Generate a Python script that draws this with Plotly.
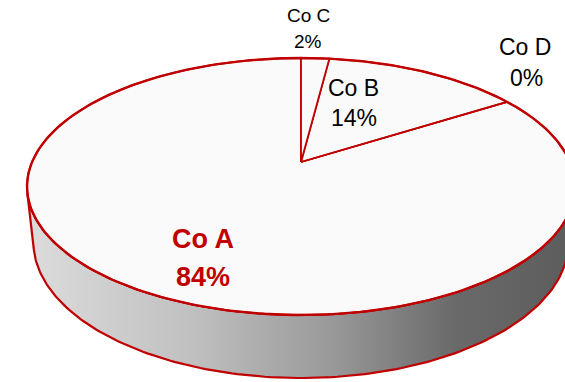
import numpy as np
import plotly.graph_objects as go

# Market share by company (percent)
companies = ["Co A", "Co B", "Co C", "Co D"]
shares = [84, 14, 2, 0]

# Slices are laid out clockwise starting at 12 o'clock in this order
slice_order = ["Co C", "Co B", "Co D", "Co A"]

W, H = 565, 382
RED = "#c00000"
TOP_FILL = "#fafafa"

# Perspective camera for the tilted disc (unit radius)
TILT = np.arcsin(0.4604)
DIST = 4.657
FOCAL = 1252.6
CX, CY = 301.0, 162.0
THICK = 0.2346
cs, sn = np.cos(TILT), np.sin(TILT)


def project(theta_deg, r=1.0, h=0.0):
    th = np.radians(np.asarray(theta_deg, dtype=float))
    x = r * np.sin(th)
    z = r * np.cos(th)
    y = np.full_like(x, h)
    yp = y * cs + z * sn
    zp = -y * sn + z * cs
    depth = DIST + zp
    return CX + FOCAL * x / depth, CY - FOCAL * yp / depth


def arc(a0, a1, r=1.0, h=0.0):
    n = max(2, int(abs(a1 - a0)) + 2)
    return project(np.linspace(a0, a1, n), r, h)


fig = go.Figure()

# Visible rim of the disc, between the two silhouette generators
sil = np.degrees(np.arccos(-1.0 / (DIST * cs)))
tx, ty = arc(sil, 360 - sil, 1.0, 0.0)
bx, by = arc(360 - sil, sil, 1.0, -THICK)
fig.add_trace(go.Scatter(
    x=np.concatenate([tx, bx, tx[:1]]),
    y=np.concatenate([ty, by, ty[:1]]),
    mode="lines", fill="toself",
    fillgradient=dict(type="horizontal",
                      colorscale=[[0, "#dcdcdc"], [0.3, "#c0c0c0"],
                                  [0.55, "#9a9a9a"], [0.78, "#6a6a6a"],
                                  [1, "#5c5c5c"]]),
    line=dict(color=RED, width=2.2),
    hoverinfo="skip", showlegend=False,
))

# Top face slices
share_of = dict(zip(companies, shares))
start = 0.0
bounds = {}
for name in slice_order:
    sweep = 360.0 * share_of[name] / sum(shares)
    bounds[name] = (start, start + sweep)
    start += sweep

for name in ["Co A", "Co B", "Co C", "Co D"]:
    a0, a1 = bounds[name]
    ax_, ay_ = arc(a0, a1)
    px = np.concatenate([[CX], ax_, [CX]])
    py = np.concatenate([[CY], ay_, [CY]])
    fig.add_trace(go.Scatter(
        x=px, y=py, mode="lines",
        fill="toself" if a1 > a0 else None, fillcolor=TOP_FILL,
        line=dict(color=RED, width=1.8),
        hoverinfo="skip", showlegend=False,
    ))

# Outer edge of the top face, drawn a little heavier
ex, ey = arc(0, 360)
fig.add_trace(go.Scatter(x=ex, y=ey, mode="lines",
                         line=dict(color=RED, width=2.4),
                         hoverinfo="skip", showlegend=False))

# Data labels: name line and percent line
FONT = "Liberation Sans Narrow, Arial Narrow, Liberation Sans, Arial, sans-serif"
label_pos = {
    "Co A": ((203, 239), (203, 277)),
    "Co B": ((353, 88), (354, 118)),
    "Co C": ((308, 15), (308, 41)),
    "Co D": ((525, 47), (526, 78)),
}
label_style = {
    "Co A": dict(size=27, color=RED, bold=True),
    "Co B": dict(size=23, color="#000000", bold=False),
    "Co C": dict(size=19, color="#000000", bold=False),
    "Co D": dict(size=23, color="#000000", bold=False),
}
for name, val in zip(companies, shares):
    st = label_style[name]
    for (lx, ly), txt in zip(label_pos[name], [name, f"{val}%"]):
        t = f"<b>{txt}</b>" if st["bold"] else txt
        fig.add_annotation(x=lx, y=ly, xref="x", yref="y", text=t,
                           showarrow=False, xanchor="center", yanchor="middle",
                           font=dict(family=FONT, size=st["size"], color=st["color"]))

fig.update_layout(
    width=W, height=H,
    margin=dict(l=0, r=0, t=0, b=0),
    paper_bgcolor="white", plot_bgcolor="white",
    xaxis=dict(range=[0, W], visible=False, fixedrange=True),
    yaxis=dict(range=[H, 0], visible=False, fixedrange=True),
    showlegend=False,
)

fig.write_html("out.html")
